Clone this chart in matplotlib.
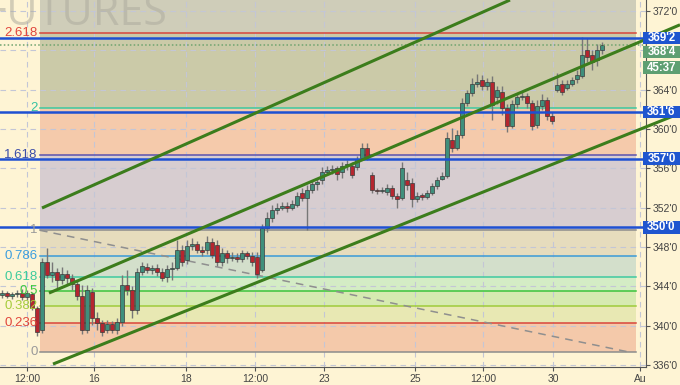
import numpy as np
import matplotlib
matplotlib.use("Agg")
import matplotlib.pyplot as plt
import matplotlib.transforms as mtransforms
from matplotlib.patches import Rectangle

plt.rcParams['font.family'] = ['Liberation Sans', 'DejaVu Sans']

# candle data (price), one bar per slot
opens = [343.12, 343.32, 343.02, 343.22, 343.32, 342.92, 343.22, 341.80, 339.56, 346.47,
         345.15, 345.46, 344.64, 345.25, 344.85, 344.24, 343.02, 339.56, 343.42, 340.78,
         340.27, 339.56, 340.17, 339.56, 340.37, 344.14, 343.63, 341.59, 345.46, 345.97,
         345.66, 345.86, 345.46, 344.95, 345.76, 345.86, 347.69, 346.68, 348.10, 348.31,
         347.69, 347.69, 348.51, 348.20, 346.47, 347.39, 346.88, 346.98, 346.78, 347.39,
         347.08, 346.98, 345.66, 349.93, 350.95, 351.76, 351.97, 352.17, 351.97, 352.27,
         353.49, 352.98, 353.80, 354.41, 354.81, 355.63, 355.83, 356.03, 355.63, 356.34,
         356.24, 356.14, 357.05, 358.07, 355.32, 353.80, 353.70, 353.59, 354.00, 353.19,
         352.98, 354.81, 354.51, 352.88, 353.29, 353.09, 353.49, 354.20, 354.92, 355.22,
         358.88, 358.07, 359.39, 362.64, 363.66, 364.58, 364.98, 364.37, 364.78, 363.26,
         363.76, 362.14, 360.31, 362.54, 363.26, 363.36, 362.64, 360.41, 362.34, 362.95,
         361.32, 363.97, 364.58, 364.17, 364.58, 365.09, 365.39, 368.03, 367.53, 367.02,
         368.03]
closes = [343.32, 343.02, 343.22, 343.32, 342.92, 343.32, 341.80, 339.36, 346.47, 345.15,
          345.46, 344.64, 345.25, 344.85, 344.24, 343.02, 339.56, 343.63, 340.78, 340.27,
          339.36, 340.17, 339.56, 340.37, 344.14, 343.63, 341.59, 345.46, 346.07, 345.66,
          345.86, 345.46, 344.85, 345.76, 345.86, 347.69, 346.47, 348.10, 348.31, 347.69,
          347.49, 348.51, 347.19, 346.47, 347.39, 346.88, 346.98, 346.78, 347.39, 347.08,
          346.47, 345.25, 349.93, 350.95, 351.76, 351.97, 352.17, 351.97, 352.37, 353.19,
          352.98, 353.80, 354.41, 354.61, 355.63, 355.83, 355.93, 355.42, 356.24, 356.44,
          355.32, 356.95, 358.07, 357.15, 353.80, 353.70, 353.80, 354.00, 353.19, 352.88,
          356.03, 354.31, 352.88, 353.19, 353.09, 353.49, 354.20, 354.81, 355.22, 359.09,
          358.07, 359.39, 362.64, 363.66, 364.58, 364.78, 364.37, 364.78, 362.44, 363.97,
          362.14, 360.31, 362.54, 363.26, 363.36, 362.64, 360.31, 362.34, 362.95, 361.32,
          360.81, 364.48, 363.76, 364.58, 364.98, 365.49, 367.53, 367.32, 366.81, 368.03,
          368.50]
highs = [343.63, 343.53, 343.42, 343.63, 343.73, 343.63, 343.42, 342.00, 346.88, 347.90,
         346.47, 345.86, 345.97, 345.66, 345.25, 344.64, 344.14, 344.14, 343.83, 341.39,
         340.58, 340.58, 340.47, 340.78, 345.15, 345.66, 344.03, 345.86, 346.47, 346.37,
         346.17, 346.27, 345.86, 346.17, 346.47, 348.71, 348.20, 348.71, 348.92, 348.61,
         348.10, 349.12, 348.92, 348.71, 347.90, 347.69, 347.49, 347.39, 347.69, 347.59,
         347.49, 347.49, 350.34, 351.56, 352.27, 352.47, 352.58, 352.58, 352.78, 353.59,
         354.00, 354.31, 354.81, 355.02, 356.14, 356.24, 356.34, 356.24, 356.64, 356.85,
         356.64, 357.25, 358.58, 358.58, 355.63, 354.00, 354.10, 354.41, 354.31, 353.49,
         356.64, 355.63, 355.02, 353.59, 353.49, 353.80, 354.51, 355.12, 355.63, 359.70,
         360.10, 359.90, 363.15, 363.97, 365.19, 365.59, 365.49, 365.19, 365.39, 364.37,
         364.37, 362.54, 362.95, 363.66, 363.76, 363.66, 362.95, 362.95, 363.56, 363.26,
         361.73, 365.70, 364.98, 364.98, 365.29, 366.00, 369.36, 369.26, 368.03, 368.65,
         368.85]
lows = [342.81, 342.81, 342.71, 342.92, 342.61, 342.61, 341.59, 338.95, 339.25, 344.85,
        344.44, 343.83, 344.24, 344.14, 343.63, 342.61, 339.15, 339.25, 340.07, 339.56,
        338.95, 339.25, 339.25, 339.15, 339.97, 343.12, 340.78, 341.19, 345.15, 345.36,
        345.25, 345.05, 344.54, 344.44, 344.64, 345.66, 346.07, 346.27, 347.69, 347.39,
        347.08, 347.29, 346.88, 346.07, 346.07, 346.37, 346.58, 346.47, 346.47, 346.78,
        346.07, 344.85, 345.46, 349.53, 350.54, 351.36, 351.76, 351.56, 351.76, 352.07,
        352.68, 349.73, 353.49, 353.80, 354.41, 355.32, 355.42, 354.81, 355.02, 355.83,
        355.02, 355.83, 356.85, 356.85, 353.49, 353.39, 353.49, 353.29, 352.88, 351.97,
        352.78, 353.80, 352.07, 352.58, 352.78, 352.88, 353.29, 353.90, 354.81, 355.02,
        357.66, 357.86, 359.09, 362.34, 363.36, 364.27, 363.97, 363.97, 360.92, 362.54,
        361.42, 359.70, 360.10, 362.14, 362.95, 362.14, 359.90, 360.10, 361.93, 360.92,
        360.51, 363.76, 363.46, 363.97, 364.37, 364.68, 365.19, 366.81, 366.00, 366.41,
        367.63]

# x tick positions (bar index) and labels
tick_pos = [5.0, 18.4, 36.8, 50.6, 64.4, 82.6, 96.2, 110.2, 127.6]
tick_lbl = ["12:00", "16", "18", "12:00", "23", "25", "12:00", "30", "Au"]
price_ticks = [336, 340, 344, 348, 352, 356, 360, 364, 368, 372]

# fibonacci drawing
fib_lo, fib_hi = 337.3, 349.7
fib_x0, fib_x1 = 7.6, 126.8
fib_ratios = [0, 0.236, 0.382, 0.5, 0.618, 0.786, 1, 1.618, 2, 2.618]
fib_names = ["0", "0.236", "0.382", "0.5", "0.618", "0.786", "1", "1.618", "2", "2.618"]
fib_line_cols = ["#8c8c8c", "#d9463b", "#9fcb3b", "#3cc43c", "#3fcaa0", "#3a9ad8",
                 "#8c8c8c", "#5a52b0", "#3cc8a0", "#d9463b"]
fib_label_cols = ["#9a9a9a", "#e0463c", "#a6cc3c", "#3cc83c", "#3ccb9c", "#3b9ede",
                  "#9a9a9a", "#3c4ea8", "#34c2a2", "#e0463c"]
fib_zone_cols = ["#f4c9aa", "#e8e8b3", "#d6eab1", "#d4ecc5", "#d3dfcb", "#e6dcbd",
                 "#d7cdd0", "#f5caab", "#cbcaa8", "#cfcdb9"]

# horizontal price lines with right-axis tags
key_levels = [369.25, 361.75, 357.0, 350.0]
key_tags = ["369'2", "361'6", "357'0", "350'0"]
last_price = 368.5
last_tag = "368'4"
last_tag_y = 367.83
timer_tag = "45:37"
timer_y = 366.25

# channel lines: (x0, y0, x1, y1)
channels = [(8.0, 351.97, 101.6, 373.12),
            (9.4, 343.32, 135.6, 370.60),
            (10.2, 336.10, 135.6, 361.60)]

fig = plt.figure(figsize=(6.8, 3.85), dpi=100)
fig.patch.set_facecolor("#fef4d4")
ax = fig.add_axes([0, 18 / 385, 646 / 680, 367 / 385])
ax.set_facecolor("#fef4d4")
ax.set_xlim(-0.4, 128.8)
ax.set_ylim(335.80, 373.12)
px_price = (373.12 - 335.80) / 367   # price per pixel

# fib zones
levels = [fib_lo + r * (fib_hi - fib_lo) for r in fib_ratios]
tops = levels[1:] + [373.12]
for lo, hi, c in zip(levels, tops, fib_zone_cols):
    ax.fill_between([fib_x0, fib_x1], lo, hi, color=c, lw=0, zorder=0.2)
for lv, c, lc, name in zip(levels, fib_line_cols, fib_label_cols, fib_names):
    ax.plot([fib_x0, fib_x1], [lv, lv], color=c, lw=1.1, zorder=1)
    ax.text(7.1, lv, name, color=lc, fontsize=9.5, ha="right", va="center", zorder=6)
ax.plot([fib_x0, fib_x1 - 1.2], [fib_hi, fib_lo], color="#8f8f8f", lw=1.1,
        ls=(0, (5, 4)), zorder=1.2)

# watermark
ax.text(168 / 646, 1 - 25 / 367, "FUTURES", transform=ax.transAxes, ha="right",
        va="baseline", fontsize=31, color="#aeac9e", alpha=0.55, zorder=1,
        family="Open Sans")

# grid
ax.set_axisbelow(True)
ax.set_xticks(tick_pos)
ax.set_xticklabels(tick_lbl)
ax.set_yticks(price_ticks)
ax.set_yticklabels([f"{v}'0" for v in price_ticks])
ax.grid(True, color="#c3c6d6", lw=0.8, ls=(0, (5, 4)))

# candles
x = np.arange(len(opens))
o = np.array(opens)
c = np.array(closes)
ax.vlines(x, lows, highs, color="#777777", lw=1, zorder=3)
up = c >= o
body_col = np.where(up, "#3f8f7c", "#b5262f")
ax.bar(x, np.abs(c - o), bottom=np.minimum(o, c), width=0.72, color=body_col,
       edgecolor="#3b3b3b", lw=0.5, zorder=4)

# right-axis tags
tr = mtransforms.blended_transform_factory(ax.transAxes, ax.transData)


def tag(y, text, fc):
    h = 12.5 * px_price
    ax.add_patch(Rectangle((643 / 646, y - h / 2), 40 / 646, h, transform=tr,
                           fc=fc, ec="none", clip_on=False, zorder=7))
    ax.text(661.5 / 646, y, text, transform=tr, ha="center", va="center",
            color="white", fontsize=8.3, fontweight="bold", clip_on=False, zorder=8)


for p, t in zip(key_levels, key_tags):
    ax.axhline(p, color="#1e50d2", lw=1.8, zorder=5)
    tag(p, t, "#1e55cf")
ax.axhline(last_price, color="#6fa36f", lw=1.1, ls=(0, (1, 1.5)), zorder=5)
tag(last_tag_y, last_tag, "#5e9f72")
tag(timer_y, timer_tag, "#5e9f72")

# channel lines
for x0, y0, x1, y1 in channels:
    ax.plot([x0, x1], [y0, y1], color="#3c7d1c", lw=2.2, zorder=6, clip_on=False,
            solid_capstyle="butt")

# axes styling
ax.yaxis.tick_right()
for s in ["left", "top"]:
    ax.spines[s].set_visible(False)
for s in ["right", "bottom"]:
    ax.spines[s].set_color("#555555")
ax.tick_params(axis="both", colors="#555555", labelcolor="#444444", labelsize=7.5,
               length=3, pad=2)

fig.savefig("out.png", dpi=100, facecolor=fig.get_facecolor())
